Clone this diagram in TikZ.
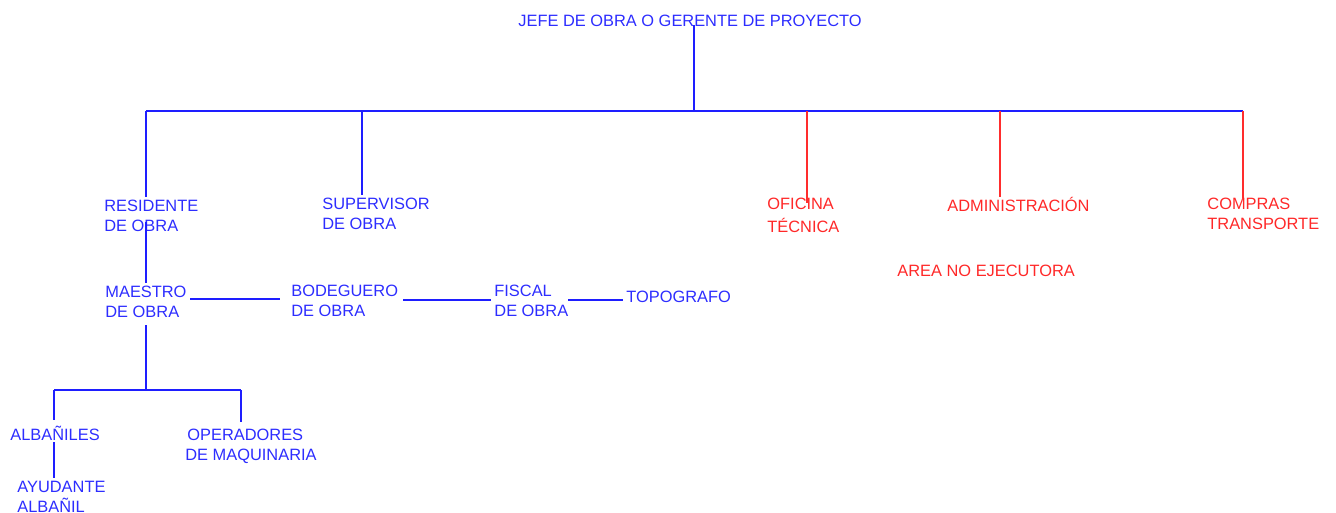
\documentclass[tikz,border=0pt]{standalone}
\usepackage{fontspec}
\setmainfont{Liberation Sans}
\definecolor{txtblue}{RGB}{45,45,255}
\definecolor{lnblue}{RGB}{30,30,255}
\definecolor{txtred}{RGB}{255,40,40}
\definecolor{lnred}{RGB}{255,45,45}
\begin{document}
\begin{tikzpicture}[x=0.5pt,y=-0.5pt,
  lbl/.style={inner sep=0pt, anchor=base west, align=left, font=\fontsize{8.2}{9.8}\selectfont},
  bl/.style={lbl, text=txtblue},
  rd/.style={lbl, text=txtred},
  bline/.style={draw=lnblue, line width=0.75pt},
  rline/.style={draw=lnred, line width=0.75pt}]
\useasboundingbox (0,0) rectangle (1336,513);

% nodes (base = baseline of the last line)
\node[bl] (jefe) at (518,27) {JEFE DE OBRA O GERENTE DE PROYECTO};
\node[bl] (res)  at (104,231) {RESIDENTE\\DE OBRA};
\node[bl] (sup)  at (322,229) {SUPERVISOR\\DE OBRA};
\node[bl] (mae)  at (105,317) {MAESTRO\\DE OBRA};
\node[bl] (bod)  at (291,316) {BODEGUERO\\DE OBRA};
\node[bl] (fis)  at (494,316) {FISCAL\\DE OBRA};
\node[bl] (top)  at (626,302) {TOPOGRAFO};
\node[bl] (alb)  at (10,440) {ALBAÑILES};
\node[bl] (ayu)  at (17,512) {AYUDANTE\\ALBAÑIL};
\node[bl] (ope)  at (187,460) {OPERADORES\\\hspace*{-1pt}DE MAQUINARIA};
\node[rd] (ofi)  at (767,232) {OFICINA\\[1.6pt]TÉCNICA};
\node[rd] (adm)  at (947,212) {ADMINISTRACIÓN};
\node[rd] (com)  at (1207,229) {COMPRAS\\TRANSPORTE};
\node[rd] (area) at (897,276) {AREA NO EJECUTORA};

% junctions
\coordinate (jt) at (694,25);
\coordinate (bj) at (694,111);
\coordinate (b1) at (146,111);
\coordinate (b2) at (362,111);
\coordinate (b3) at (807,111);
\coordinate (b4) at (1000,111);
\coordinate (b5) at (1243,111);
\coordinate (e1) at (146,197);
\coordinate (e2) at (362,195);
\coordinate (e3) at (807,203);
\coordinate (e4) at (1000,197);
\coordinate (e5) at (1243,198);
\coordinate (r1) at (146,222);
\coordinate (m1) at (146,283);
\coordinate (m2) at (146,325);
\coordinate (mb) at (146,390);
\coordinate (a1) at (54,390);
\coordinate (o1) at (241,390);
\coordinate (a2) at (54,420);
\coordinate (o2) at (241,422);
\coordinate (a3) at (54,442);
\coordinate (a4) at (54,478);
\coordinate (h1) at (190,299);
\coordinate (h2) at (280,299);
\coordinate (h3) at (403,300);
\coordinate (h4) at (491,300);
\coordinate (h5) at (568,300);
\coordinate (h6) at (623,300);

% connectors
\draw[bline] (jt) -- (bj);
\draw[bline] (b1) -- (b5);
\draw[bline] (b1) -- (e1);
\draw[bline] (b2) -- (e2);
\draw[rline] (b3) -- (e3);
\draw[rline] (b4) -- (e4);
\draw[rline] (b5) -- (e5);
\draw[bline] (r1) -- (m1);
\draw[bline] (m2) -- (mb);
\draw[bline] (a1) -- (o1);
\draw[bline] (a1) -- (a2);
\draw[bline] (o1) -- (o2);
\draw[bline] (a3) -- (a4);
\draw[bline] (h1) -- (h2);
\draw[bline] (h3) -- (h4);
\draw[bline] (h5) -- (h6);
\end{tikzpicture}
\end{document}
